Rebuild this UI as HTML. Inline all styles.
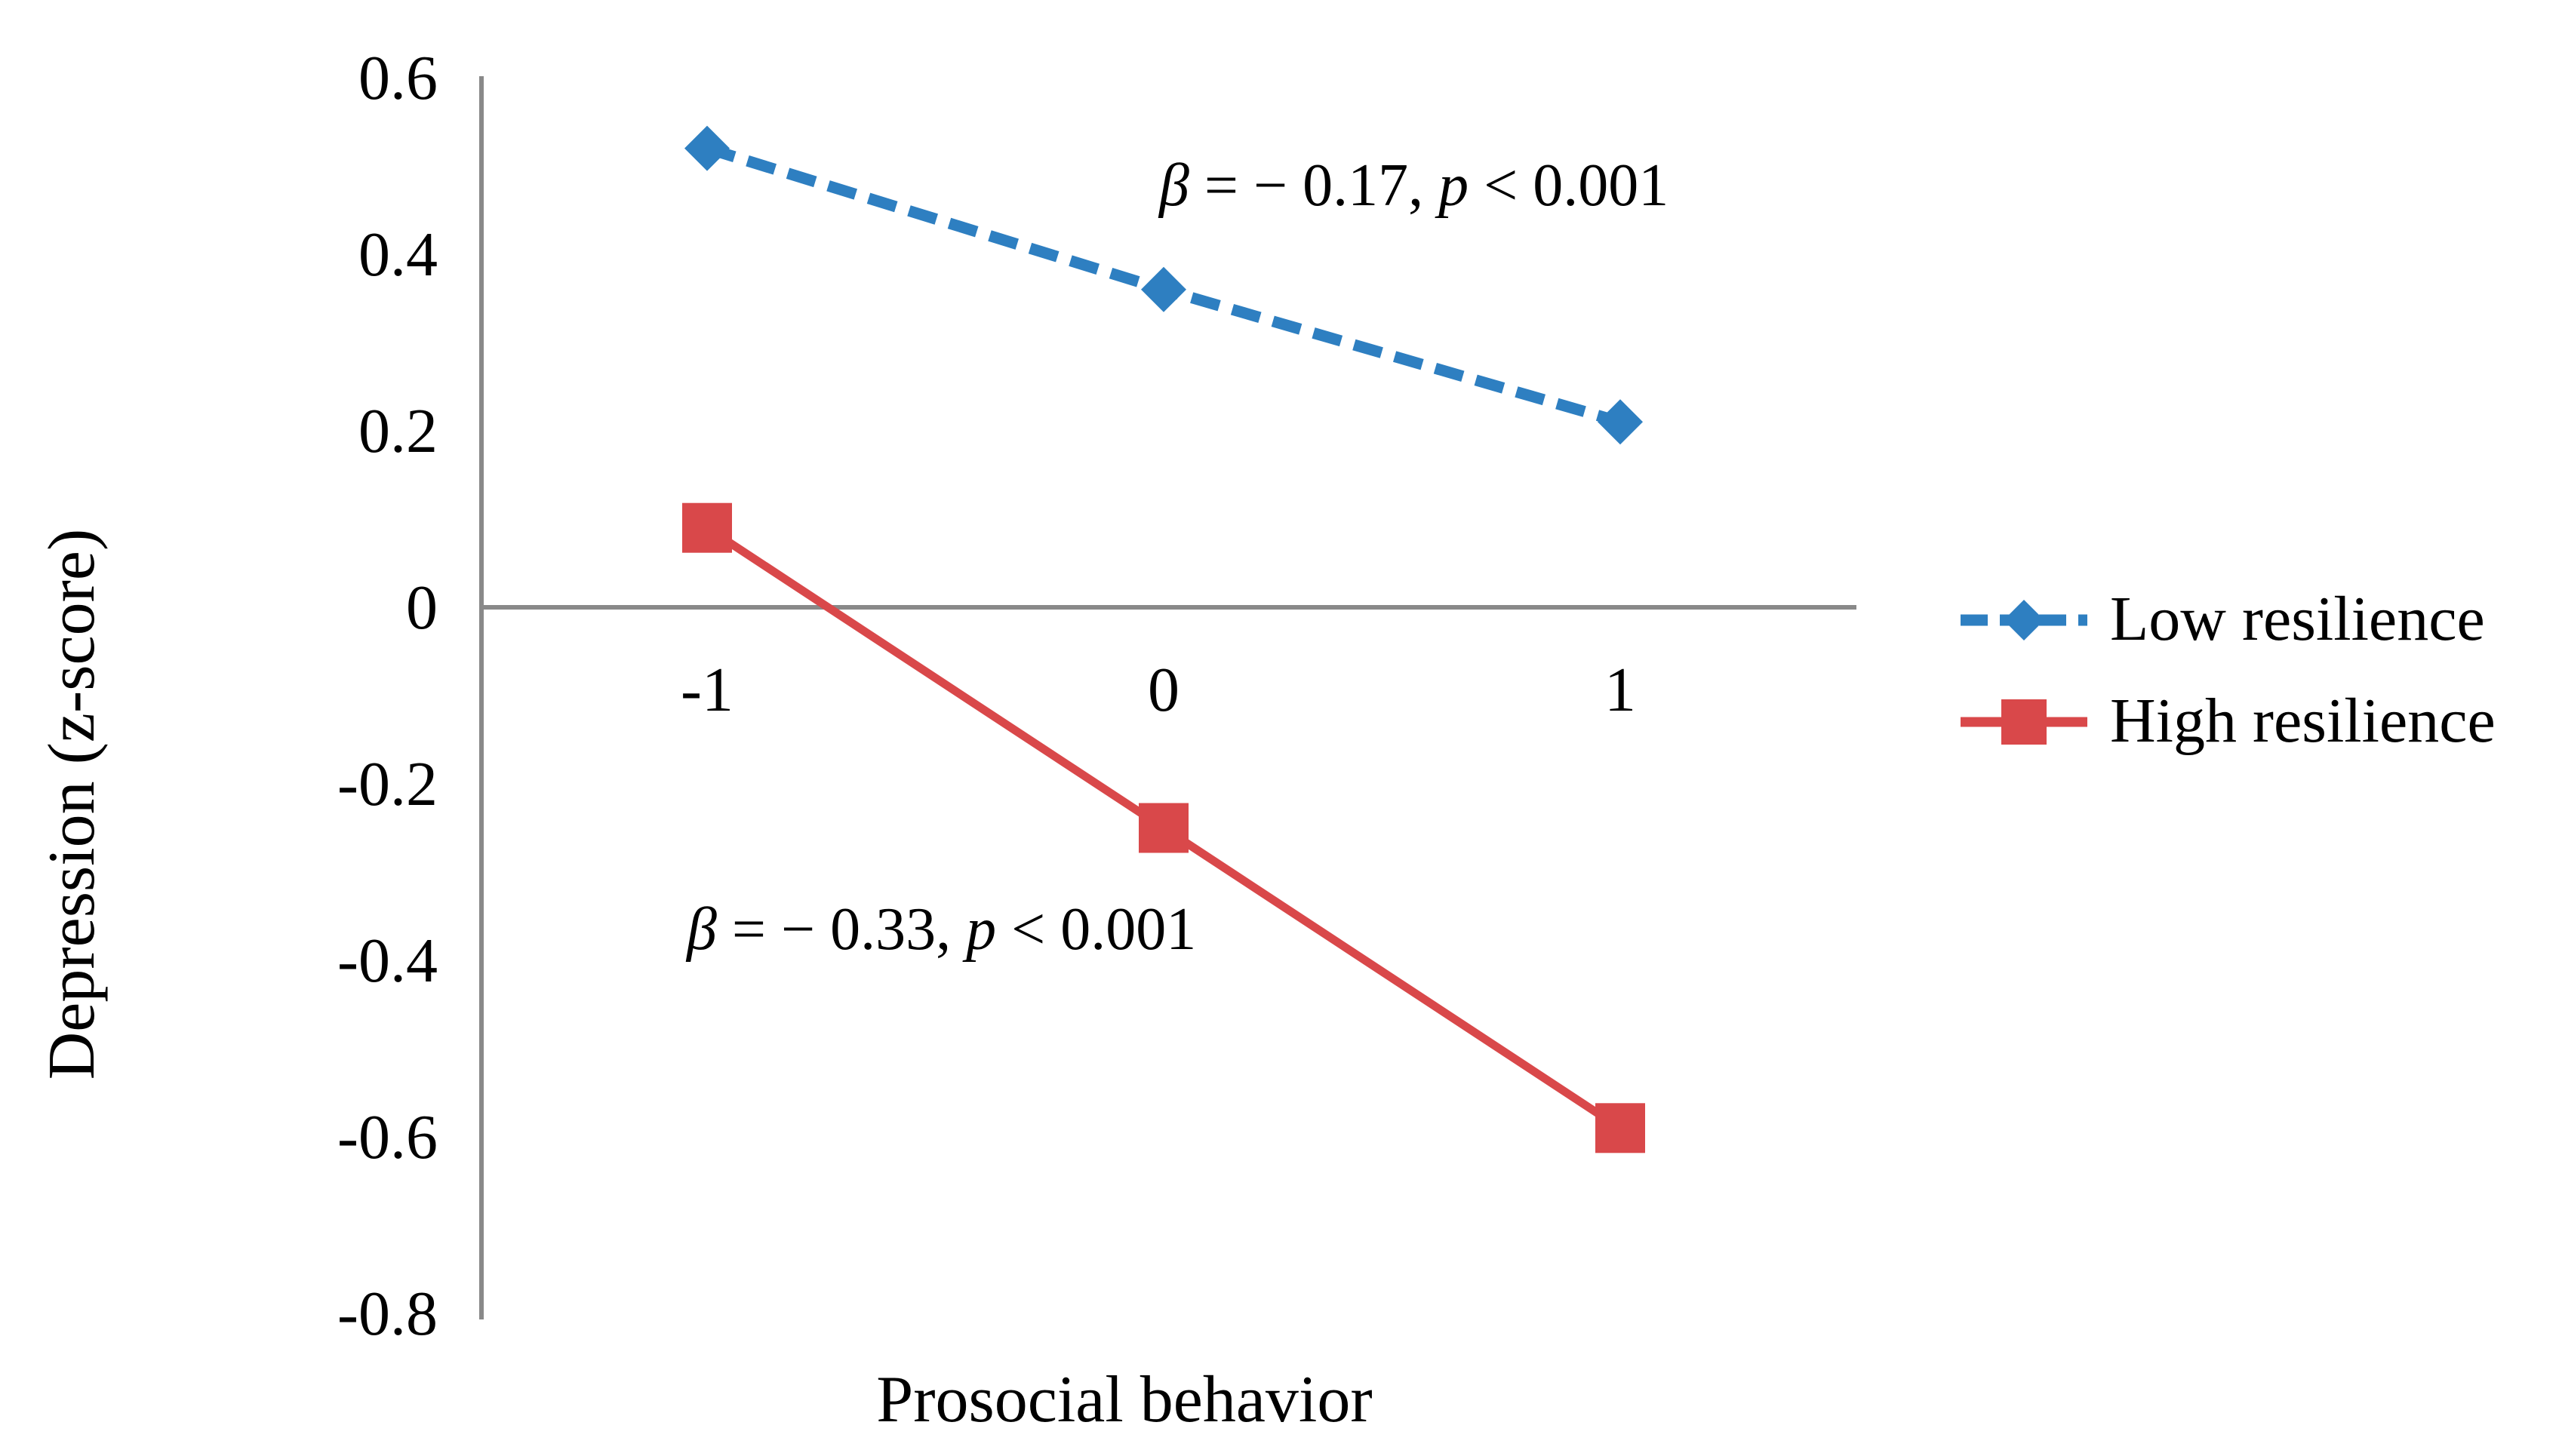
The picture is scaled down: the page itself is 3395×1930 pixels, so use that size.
<!DOCTYPE html>
<html><head><meta charset="utf-8"><style>
html,body{margin:0;padding:0;background:#fff;}
svg{display:block;font-family:"Liberation Serif",serif;}
</style></head><body>
<svg id="chart" width="3395" height="1930" viewBox="0 0 3395 1930" xmlns="http://www.w3.org/2000/svg">
<rect x="0" y="0" width="3395" height="1930" fill="#fff"/>
<g id="axes"></g>
<g id="series"></g>
<text x="1536" y="272" font-size="80"><tspan font-style="italic">β</tspan> = − 0.17, <tspan font-style="italic">p</tspan> &lt; 0.001</text>
<text x="910" y="1258" font-size="80"><tspan font-style="italic">β</tspan> = − 0.33, <tspan font-style="italic">p</tspan> &lt; 0.001</text>
<text x="1490" y="1884" font-size="88" text-anchor="middle">Prosocial behavior</text>
<text transform="translate(124,1066) rotate(-90)" font-size="88" text-anchor="middle">Depression (z-score)</text>
<g>
  <g>
    <line x1="2598" y1="822" x2="2766" y2="822" stroke="#2e7fc1" stroke-width="15" stroke-dasharray="36,16"/>
    <polygon points="2682,795 2709,822 2682,849 2655,822" fill="#2e7fc1"/>
    <text x="2796" y="848" font-size="84">Low resilience</text>
  </g>
  <g>
    <line x1="2598" y1="957" x2="2766" y2="957" stroke="#d9484a" stroke-width="13"/>
    <rect x="2652" y="927" width="60" height="60" fill="#d9484a"/>
    <text x="2796" y="983" font-size="84">High resilience</text>
  </g>
</g>
</svg>
<script>
const categories = [-1, 0, 1];
const lowValues = [0.52, 0.36, 0.21];
const highValues = [0.09, -0.25, -0.59];
const yTicks = [0.6, 0.4, 0.2, 0, -0.2, -0.4, -0.6, -0.8];
const yTickLabels = ["0.6","0.4","0.2","0","-0.2","-0.4","-0.6","-0.8"];
const xTickLabels = ["-1","0","1"];

const NS = "http://www.w3.org/2000/svg";
function xs(v){ return 1542 + v * 605; }
function ys(v){ return 805 - v / 0.2 * 234; }
function mk(tag, attrs, parent){ const e = document.createElementNS(NS, tag); for (const k in attrs) e.setAttribute(k, attrs[k]); parent.appendChild(e); return e; }

const axes = document.getElementById('axes');
const yAxis = mk('line', {x1:638, y1:ys(0.6)-2, x2:638, y2:ys(-0.8)+8, stroke:'#898989', 'stroke-width':6}, axes);


const xAxis = mk('line', {x1:638, y1:ys(0), x2:2460, y2:ys(0), stroke:'#898989', 'stroke-width':6}, axes);


yTicks.forEach((v, i) => {
  const t = mk('text', {x:580, y:ys(v)+28, 'font-size':84, 'text-anchor':'end'}, axes);
  t.textContent = yTickLabels[i];
  
  
});
categories.forEach((c, i) => {
  const t = mk('text', {x:xs(c), y:942, 'font-size':84, 'text-anchor':'middle'}, axes);
  t.textContent = xTickLabels[i];
  
  
});

const series = document.getElementById('series');
const lowPts = categories.map((c, i) => xs(c) + ',' + ys(lowValues[i])).join(' ');
const lowLine = mk('polyline', {points:lowPts, fill:'none', stroke:'#2e7fc1', 'stroke-width':15, 'stroke-dasharray':'38,18'}, series);


categories.forEach((c, i) => {
  const x = xs(c), y = ys(lowValues[i]);
  const p = mk('polygon', {points:`${x},${y-30} ${x+30},${y} ${x},${y+30} ${x-30},${y}`, fill:'#2e7fc1'}, series);
  
  
});
const highPts = categories.map((c, i) => xs(c) + ',' + ys(highValues[i])).join(' ');
const highLine = mk('polyline', {points:highPts, fill:'none', stroke:'#d9484a', 'stroke-width':11}, series);


categories.forEach((c, i) => {
  const x = xs(c), y = ys(highValues[i]);
  const r = mk('rect', {x:x-33, y:y-33, width:66, height:66, fill:'#d9484a'}, series);
  
  
});
</script>
</body></html>
